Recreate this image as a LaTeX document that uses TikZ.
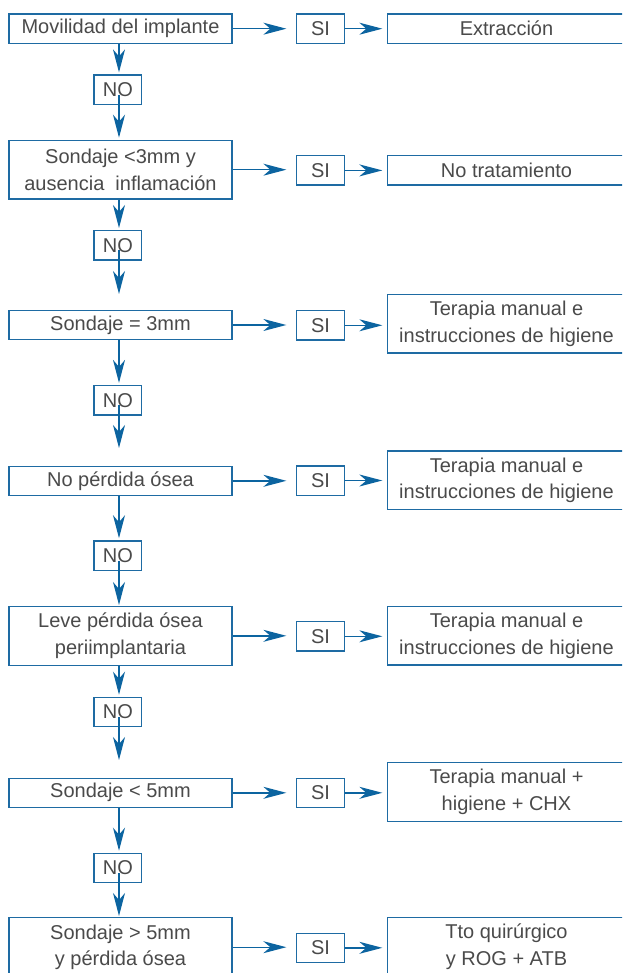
\documentclass[tikz,border=0pt]{standalone}
\usepackage{fontspec}
\setmainfont{Liberation Sans}
\usetikzlibrary{arrows.meta}
\definecolor{bord}{RGB}{30,107,163}
\definecolor{arrc}{RGB}{12,100,160}
\definecolor{txt}{RGB}{74,74,74}
\begin{document}
\begin{tikzpicture}[x=1pt,y=-1pt,
  box/.style={draw=bord, line width=1.3pt, text=txt,
    font=\fontsize{20}{26.7}\selectfont, align=center, inner sep=0pt},
  lbox/.style={box, minimum width=223pt, minimum height=29.3pt},
  lbox2/.style={box, minimum width=223pt, minimum height=58.8pt},
  sbox/.style={box, minimum width=47.6pt, minimum height=29.3pt},
  rbox/.style={box, minimum width=238.4pt, minimum height=29.3pt},
  rbox2/.style={box, minimum width=238.4pt, minimum height=58.6pt},
  arr/.style={draw=arrc, line width=1.4pt, -{Stealth[length=23pt,width=12pt,inset=7pt]}}
]
\useasboundingbox (0,0) rectangle (622,973);
\clip (0,0) rectangle (622,973);

% left column
\node[lbox]  (L1) at (120.5,28.7)  {Movilidad del implante};
\node[lbox2] (L2) at (120.5,169.7) {Sondaje <3mm y\\ausencia\ \ inflamación};
\node[lbox]  (L3) at (120.5,325)   {Sondaje = 3mm};
\node[lbox]  (L4) at (120.5,480.8) {No pérdida ósea};
\node[lbox2] (L5) at (120.5,635.8) {Leve pérdida ósea\\periimplantaria};
\node[lbox]  (L6) at (120.5,792.8) {Sondaje < 5mm};
\node[lbox2] (L7) at (120.5,947.2) {Sondaje > 5mm\\y pérdida ósea};

% NO boxes
\node[sbox] (N1) at (117.9,89.7)  {NO};
\node[sbox] (N2) at (117.9,245.3) {NO};
\node[sbox] (N3) at (117.9,400.2) {NO};
\node[sbox] (N4) at (117.9,555.5) {NO};
\node[sbox] (N5) at (117.9,712)   {NO};
\node[sbox] (N6) at (117.9,868)   {NO};

% SI boxes
\node[sbox] (S1) at (320.5,28.7)  {SI};
\node[sbox] (S2) at (320.5,170.4) {SI};
\node[sbox] (S3) at (320.5,325.3) {SI};
\node[sbox] (S4) at (320.5,480.5) {SI};
\node[sbox] (S5) at (320.5,636.3) {SI};
\node[sbox] (S6) at (320.5,792.8) {SI};
\node[sbox] (S7) at (320.5,947.8) {SI};

% right column
\node[rbox]  (R1) at (506.5,28.7)  {Extracción};
\node[rbox]  (R2) at (506.5,170.5) {No tratamiento};
\node[rbox2] (R3) at (506.5,323.7) {Terapia manual e\\instrucciones de higiene};
\node[rbox2] (R4) at (506.5,480.2) {Terapia manual e\\instrucciones de higiene};
\node[rbox2] (R5) at (506.5,635.8) {Terapia manual e\\instrucciones de higiene};
\node[rbox2] (R6) at (506.5,792)   {Terapia manual +\\higiene + CHX};
\node[rbox2] (R7) at (506.5,946.5) {Tto quirúrgico\\y ROG + ATB};

% tips of the arrows leaving the NO boxes
\coordinate (t1) at (119,137.7);
\coordinate (t2) at (119,294);
\coordinate (t3) at (119,448);
\coordinate (t4) at (119,605);
\coordinate (t5) at (119,760);
\coordinate (t6) at (119,916);

% vertical arrows
\foreach \a/\b in {L1/N1,L2/N2,L3/N3,L4/N4,L5/N5,L6/N6}{
  \draw[arr, shorten >=2pt] ([xshift=-1.5pt]\a.south) -- ([xshift=1.1pt]\b.north);
}
\foreach \a/\b in {N1/t1,N2/t2,N3/t3,N4/t4,N5/t5,N6/t6}{
  \draw[arr] ([xshift=1.1pt,yshift=-5pt]\a.center) -- (\b);
}

% horizontal arrows
\foreach \a/\b/\c in {L1/S1/R1,L2/S2/R2,L3/S3/R3,L4/S4/R4,L5/S5/R5,L6/S6/R6,L7/S7/R7}{
  \draw[arr, shorten >=9.7pt] (\a.east) -- (\a.east -| \b.west);
  \draw[arr, shorten >=4.3pt] (\b.east) -- (\b.east -| \c.west);
}
\end{tikzpicture}
\end{document}
